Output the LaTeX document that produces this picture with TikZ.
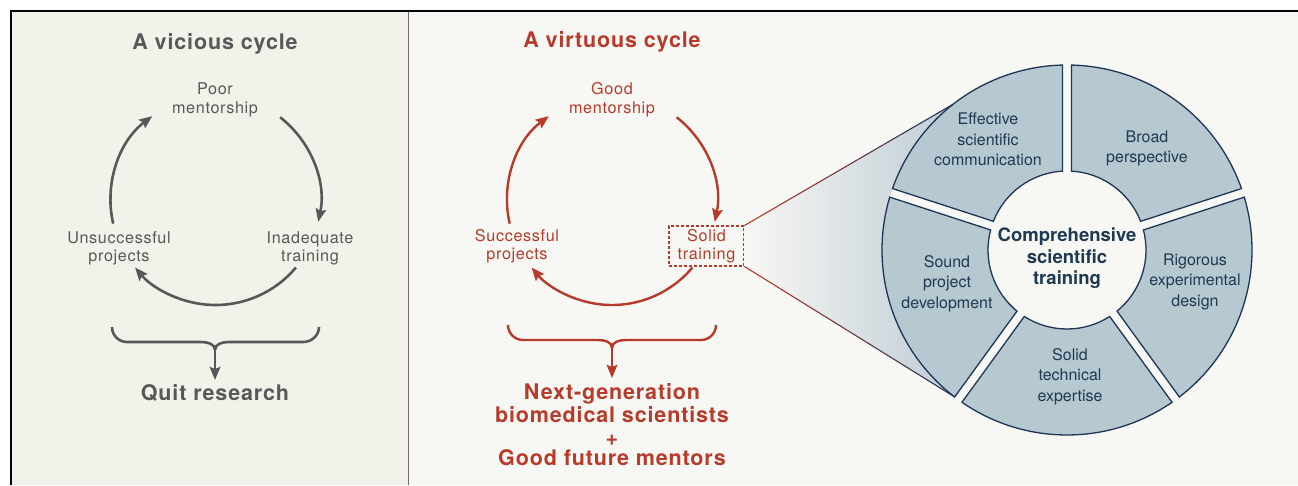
\documentclass[tikz,border=0pt]{standalone}
\usepackage{fontspec}
\setmainfont{TeX Gyre Heros}
\newfontfamily\widefont{TeX Gyre Heros}[LetterSpace=4]
\usetikzlibrary{arrows.meta,calc}
\definecolor{viciousgrey}{HTML}{58585A}
\definecolor{virtuousred}{HTML}{B73B2B}
\definecolor{wheelnavy}{HTML}{1F3556}
\definecolor{wheeltext}{HTML}{1E3A52}
\definecolor{wheelfill}{HTML}{B6C9D1}
\definecolor{funnelblue}{HTML}{BFCDD6}
\definecolor{panelleft}{HTML}{F2F1EA}
\definecolor{panelright}{HTML}{F7F7F3}
\definecolor{divider}{HTML}{756575}
\tikzset{
  cyctext/.style={inner sep=0pt, align=center, font=\widefont\fontsize{16.2}{18.5}\selectfont},
  cyctitle/.style={inner sep=0pt, align=center, font=\widefont\bfseries\fontsize{21.5}{23}\selectfont},
  cycarrow/.style={line width=2.6pt, -{Stealth[length=13pt,width=10.5pt,inset=2pt]}},
  segment/.style={fill=wheelfill, draw=wheelnavy, line width=1.3pt},
  segtext/.style={inner sep=0pt, align=center, text=wheeltext, font=\fontsize{16}{20.5}\selectfont},
}
\begin{document}
\begin{tikzpicture}[x=1pt,y=1pt]
\useasboundingbox (0,0) rectangle (1298,485);
\fill[white] (0,0) rectangle (1298,485);
\fill[panelleft] (10.5,0) rectangle (408.5,474);
\fill[panelright] (408.5,0) rectangle (1298,474);
\draw[divider, line width=1.8pt] (408.5,0) -- (408.5,473);
\draw[line width=2.2pt] (10.8,0) -- (10.8,474) -- (1298,474);

% vicious cycle
\begin{scope}[viciousgrey]
\node[cyctitle, text=viciousgrey] (vtitle) at (215,441) {A vicious cycle};
\node[cyctext, text=viciousgrey] (vpoor) at (215,385) {Poor\\mentorship};
\node[cyctext, text=viciousgrey] (vunsucc) at (119,236.5) {Unsuccessful\\projects};
\node[cyctext, text=viciousgrey] (vinad) at (310,236.5) {Inadequate\\training};
\coordinate (vc) at (215.5,285);
\draw[cycarrow] ([shift={(52:105)}]vc) arc[start angle=52, end angle=-12, radius=105];
\draw[cycarrow] ([shift={(-40:105)}]vc) arc[start angle=-40, end angle=-140, radius=105];
\draw[cycarrow] ([shift={(193:105)}]vc) arc[start angle=193, end angle=127, radius=105];
\coordinate (vbl) at (112,158);
\coordinate (vbr) at (319,158);
\coordinate (vbm) at (215,135);
\draw[line width=2.6pt] (vbl) to[out=-90,in=180] (127,143) -- (201,143) to[out=0,in=90] (vbm);
\draw[line width=2.6pt] (vbr) to[out=-90,in=0] (303,143) -- (229,143) to[out=180,in=90] (vbm);
\node[cyctitle, text=viciousgrey] (quit) at (215,92.5) {Quit research};
\draw[cycarrow] (vbm) -- (215,105);
\end{scope}

% virtuous cycle
\begin{scope}[virtuousred]
\node[cyctitle, text=virtuousred] (gtitle) at (612,443) {A virtuous cycle};
\node[cyctext, text=virtuousred] (ggood) at (612,385.5) {Good\\mentorship};
\node[cyctext, text=virtuousred] (gsucc) at (517,239) {Successful\\projects};
\node[cyctext, text=virtuousred, draw=virtuousred, line width=1.2pt, dash pattern=on 3pt off 2pt,
  minimum width=75pt, minimum height=40pt] (solid) at (706.5,239) {Solid\\training};
\coordinate (gc) at (612,285);
\draw[cycarrow, line width=2.4pt] ([shift={(52:105)}]gc) arc[start angle=52, end angle=-12, radius=105];
\draw[cycarrow, line width=2.4pt] ([shift={(-40:105)}]gc) arc[start angle=-40, end angle=-140, radius=105];
\draw[cycarrow, line width=2.4pt] ([shift={(193:105)}]gc) arc[start angle=193, end angle=127, radius=105];
\coordinate (gbl) at (508,160);
\coordinate (gbr) at (716,160);
\coordinate (gbm) at (612,137);
\draw[line width=2.4pt] (gbl) to[out=-90,in=180] (523,145) -- (598,145) to[out=0,in=90] (gbm);
\draw[line width=2.4pt] (gbr) to[out=-90,in=0] (701,145) -- (626,145) to[out=180,in=90] (gbm);
\node[cyctitle, text=virtuousred] (next) at (612,60.5)
  {Next-generation\\biomedical scientists\\+\\[-3pt]Good future mentors};
\draw[cycarrow, line width=2.4pt] (gbm) -- (612,107);
\end{scope}

% funnel and wheel
\coordinate (wc) at (1067,235);
\coordinate (fu) at ([shift={(128:185)}]wc);
\coordinate (fl) at ([shift={(232.6:185)}]wc);
\shade[left color=panelright, right color=funnelblue] (solid.north east) -- (fu)
  arc[start angle=128, end angle=232.6, radius=185] -- (solid.south east) -- cycle;
\foreach \a in {90,18,-54,-126,-198}
  \path[segment] ([shift={({\a-1.4}:185)}]wc) arc[start angle=\a-1.4, end angle=\a-70.6, radius=185]
    -- ([shift={({\a-68.7}:79)}]wc) arc[start angle=\a-68.7, end angle=\a-3.3, radius=79] -- cycle;
\foreach \i in {0,...,11} {
  \pgfmathtruncatemacro\p{100-\i*100/11}
  \draw[line width=1.1pt, virtuousred!\p!wheelnavy] ($(solid.north east)!\i/12!(fu)$) -- ($(solid.north east)!{(\i+1)/12}!(fu)$);
  \draw[line width=1.1pt, virtuousred!\p!wheelnavy] ($(solid.south east)!\i/12!(fl)$) -- ($(solid.south east)!{(\i+1)/12}!(fl)$);
}
\node[segtext] (effective) at (988,345.5) {Effective\\scientific\\communication};
\node[segtext] (broad) at (1147,336.5) {Broad\\perspective};
\node[segtext] (rigorous) at (1195,203.5) {Rigorous\\experimental\\design};
\node[segtext] (technical) at (1070,108.5) {Solid\\technical\\expertise};
\node[segtext] (sound) at (947,201.5) {Sound\\project\\development};
\node[segtext, font=\bfseries\fontsize{18.5}{21.5}\selectfont] (comprehensive) at (1067,226.5)
  {Comprehensive\\scientific\\training};
\end{tikzpicture}
\end{document}
